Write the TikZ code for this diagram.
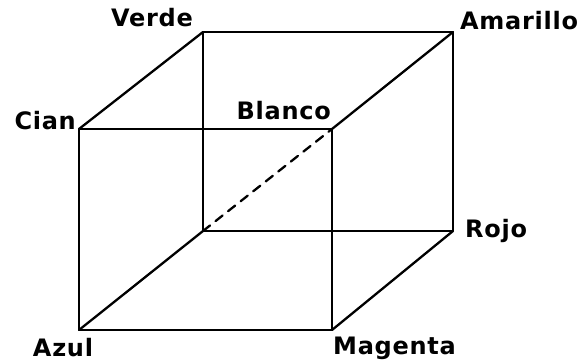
\documentclass[tikz,border=0pt]{standalone}
\usepackage{fontspec}
\setmainfont{DejaVu Sans}[LetterSpace=3]
\usetikzlibrary{positioning}
\tikzset{
  cubeedge/.style={line width=2.3pt,line cap=round,line join=round},
  diagonal/.style={cubeedge,dash pattern=on 9pt off 7pt},
  colorlabel/.style={inner sep=0pt,font=\fontsize{24}{24}\selectfont\bfseries}
}
\begin{document}
\begin{tikzpicture}[x=1pt,y=-1pt]
\useasboundingbox (0,0) rectangle (584,364);
% front face
\coordinate (cian) at (79,129);
\coordinate (blanco) at (332,129);
\coordinate (azul) at (79,330);
\coordinate (magenta) at (332,330);
% back face
\coordinate (verde) at (203,32);
\coordinate (amarillo) at (453,32);
\coordinate (negro) at (203,231);
\coordinate (rojo) at (453,231);
\draw[cubeedge] (cian) -- (blanco) -- (magenta) -- (azul) -- cycle;
\draw[cubeedge] (verde) -- (amarillo) -- (rojo) -- (negro) -- cycle;
\draw[cubeedge] (cian) -- (verde); \draw[cubeedge] (blanco) -- (amarillo);
\draw[cubeedge] (azul) -- (negro); \draw[cubeedge] (magenta) -- (rojo);
\draw[diagonal] (negro) -- (blanco);
% labels
\node[colorlabel,above left=5pt and 10pt of verde] (lblverde) {Verde};
\node[colorlabel,above right=2pt and 7pt of amarillo] (lblamarillo) {Amarillo};
\node[colorlabel,above left=-1pt and 3pt of cian] (lblcian) {Cian};
\node[colorlabel,above left=9pt and 1pt of blanco] (lblblanco) {Blanco};
\node[colorlabel,right=12pt of rojo] (lblrojo) {Rojo};
\node[colorlabel,below=8pt of azul,xshift=-16pt] (lblazul) {Azul};
\node[colorlabel,below right=7pt and 1pt of magenta] (lblmagenta) {Magenta};
\end{tikzpicture}
\end{document}
